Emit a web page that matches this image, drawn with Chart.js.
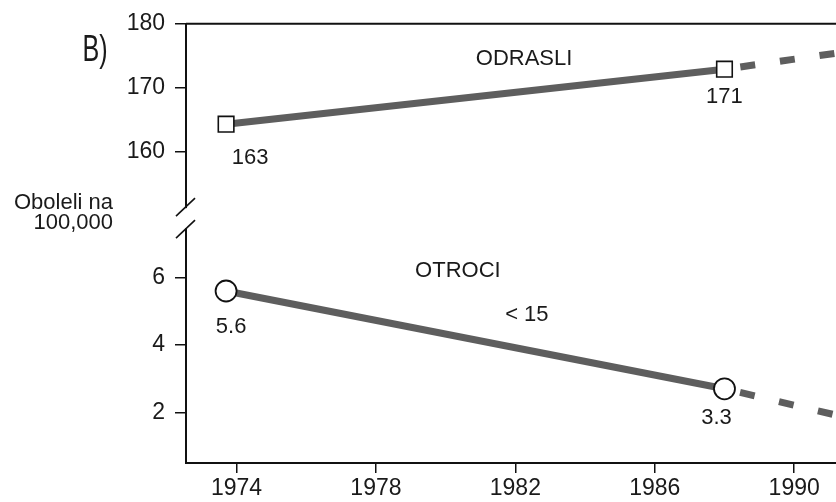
<!DOCTYPE html>
<html>
<head>
<meta charset="utf-8">
<script src="https://cdn.jsdelivr.net/npm/chart.js@4.4.1/dist/chart.umd.min.js"></script>
<style>
  html, body { margin: 0; padding: 0; background: #fff; }
  canvas { display: block; }
</style>
</head>
<body>
<canvas id="chart" width="836" height="502"></canvas>
<script>
// values
const years = [1973.7, 1988.0];
const adults = [164.3, 172.9];
const children = [5.6, 2.7];
const trendYears = [1988.0, 1991.2];
const adultsTrend = [172.9, 175.4];
const childrenTrend = [2.7, 1.92];
const adultLabels = ['163', '171'];
const childLabels = ['5.6', '3.3'];
const xTicks = [1974, 1978, 1982, 1986, 1990];
const topTicks = [160, 170, 180];
const bottomTicks = [2, 4, 6];

const FONT = "'Liberation Sans', Arial, sans-serif";
const lineGray = '#5e5e5e';

function pts(xs, ys) {
	return xs.map((x, i) => ({ x: x, y: ys[i] }));
}

const extras = {
	id: 'extras',
	beforeDraw(chart) {
		const ctx = chart.ctx;
		ctx.save();
		ctx.fillStyle = '#fff';
		ctx.fillRect(0, 0, chart.width, chart.height);
		ctx.restore();
	},
	afterDraw(chart) {
		const ctx = chart.ctx;
		const area = chart.chartArea;
		const x = chart.scales.x, yt = chart.scales.yTop, yb = chart.scales.yBot;
		ctx.save();
		// top frame line
		ctx.strokeStyle = '#111';
		ctx.lineWidth = 2;
		ctx.beginPath();
		ctx.moveTo(area.left, yt.getPixelForValue(180));
		ctx.lineTo(area.right, yt.getPixelForValue(180));
		ctx.stroke();
		// axis break
		const jy = (yt.bottom + yb.top) / 2;
		ctx.fillStyle = '#fff';
		ctx.fillRect(area.left - 3, jy - 10, 6, 20);
		ctx.lineWidth = 1.6;
		[-11, 11].forEach(d => {
			ctx.beginPath();
			ctx.moveTo(area.left - 10, jy + d + 9);
			ctx.lineTo(area.left + 9, jy + d - 9);
			ctx.stroke();
		});
		// texts
		ctx.fillStyle = '#1a1a1a';
		ctx.textAlign = 'center';
		ctx.textBaseline = 'middle';
		ctx.font = '22px ' + FONT;
		const adultOff = [[24, 34], [0, 28]];
		const childOff = [[5, 36], [-8, 29]];
		adultLabels.forEach((t, i) => {
			ctx.fillText(t, x.getPixelForValue(years[i]) + adultOff[i][0], yt.getPixelForValue(adults[i]) + adultOff[i][1]);
		});
		childLabels.forEach((t, i) => {
			ctx.fillText(t, x.getPixelForValue(years[i]) + childOff[i][0], yb.getPixelForValue(children[i]) + childOff[i][1]);
		});
		ctx.fillText('ODRASLI', x.getPixelForValue(1982.25), yt.getPixelForValue(174.5));
		ctx.fillText('OTROCI', x.getPixelForValue(1980.35), yb.getPixelForValue(6.2));
		ctx.fillText('< 15', x.getPixelForValue(1982.33), yb.getPixelForValue(4.88));
		// y title
		ctx.textAlign = 'right';
		ctx.fillText('Oboleli na', 113, 203);
		ctx.fillText('100,000', 113, 223);
		// panel letter, condensed
		ctx.textAlign = 'center';
		ctx.font = '37px ' + FONT;
		ctx.translate(95, 51);
		ctx.scale(0.68, 1);
		ctx.fillText('B)', 0, 0);
		ctx.restore();
	}
};

const ctx = document.getElementById('chart').getContext('2d');
new Chart(ctx, {
	type: 'line',
	data: {
		datasets: [{
			label: 'odrasli trend',
			data: pts(trendYears, adultsTrend),
			yAxisID: 'yTop',
			borderColor: lineGray,
			borderWidth: 7,
			borderDash: [15, 25],
			borderDashOffset: 24,
			pointRadius: 0,
			order: 2,
		}, {
			label: 'otroci trend',
			data: pts(trendYears, childrenTrend),
			yAxisID: 'yBot',
			borderColor: lineGray,
			borderWidth: 7,
			borderDash: [15, 25],
			borderDashOffset: 24,
			pointRadius: 0,
			order: 2,
		}, {
			label: 'odrasli',
			data: pts(years, adults),
			yAxisID: 'yTop',
			borderColor: lineGray,
			borderWidth: 7,
			pointStyle: 'rect',
			pointRadius: 11,
			pointBorderWidth: 1.6,
			pointBorderColor: '#111',
			pointBackgroundColor: '#fff',
			order: 1,
		}, {
			label: 'otroci',
			data: pts(years, children),
			yAxisID: 'yBot',
			borderColor: lineGray,
			borderWidth: 7,
			pointStyle: 'circle',
			pointRadius: 10.5,
			pointBorderWidth: 1.8,
			pointBorderColor: '#111',
			pointBackgroundColor: '#fff',
			order: 1,
		}]
	},
	options: {
		responsive: false,
		animation: false,
		layout: { autoPadding: false, padding: { top: 20, right: 0, bottom: 0, left: 0 } },
		plugins: {
			legend: { display: false },
			tooltip: { enabled: false }
		},
		scales: {
			x: {
				type: 'linear',
				min: 1972.55,
				max: 1991.2,
				afterBuildTicks: s => { s.ticks = xTicks.map(v => ({ value: v })); },
				afterFit: s => { s.height = 39; },
				border: { color: '#111', width: 2 },
				grid: { drawOnChartArea: false, tickLength: 10, color: '#111', lineWidth: 1.5 },
				ticks: { color: '#1a1a1a', font: { family: FONT, size: 23 }, padding: 2, maxRotation: 0, callback: v => String(v) }
			},
			yBot: {
				type: 'linear',
				position: 'left',
				stack: 'y',
				stackWeight: 247,
				min: 0.5,
				max: 7.76,
				afterBuildTicks: s => { s.ticks = bottomTicks.map(v => ({ value: v })); },
				afterFit: s => { s.width = 186; },
				border: { color: '#111', width: 2 },
				grid: { drawOnChartArea: false, tickLength: 11, color: '#111', lineWidth: 1.5 },
				ticks: { color: '#1a1a1a', font: { family: FONT, size: 23 }, padding: 10 }
			},
			yTop: {
				type: 'linear',
				position: 'left',
				stack: 'y',
				stackWeight: 196,
				min: 149.6,
				max: 180,
				afterBuildTicks: s => { s.ticks = topTicks.map(v => ({ value: v })); },
				afterFit: s => { s.width = 186; },
				border: { color: '#111', width: 2 },
				grid: { drawOnChartArea: false, tickLength: 11, color: '#111', lineWidth: 1.5 },
				ticks: { color: '#1a1a1a', font: { family: FONT, size: 23 }, padding: 10 }
			}
		}
	},
	plugins: [extras]
});
</script>
</body>
</html>
